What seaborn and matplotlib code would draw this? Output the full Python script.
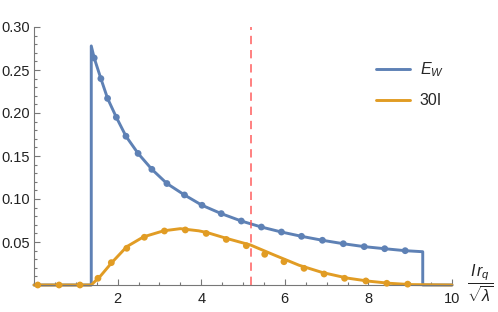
import matplotlib
matplotlib.use("Agg")
import matplotlib.pyplot as plt
from matplotlib.ticker import MultipleLocator
import seaborn as sns
import pandas as pd

# E_W curve (dots lie on the curve)
ew_x = [1.44, 1.60, 1.76, 1.97, 2.20, 2.49, 2.82, 3.18, 3.60, 4.02,
        4.48, 4.96, 5.44, 5.92, 6.40, 6.90, 7.40, 7.90, 8.39, 8.88]
ew_y = [0.264, 0.240, 0.217, 0.195, 0.173, 0.153, 0.1345, 0.118, 0.1047, 0.0927,
        0.083, 0.0744, 0.0674, 0.0616, 0.0566, 0.052, 0.048, 0.0446, 0.0422, 0.0399]
ew_start, ew_peak = 1.37, 0.278
ew_end, ew_last = 9.30, 0.0387

# 30I curve and its sample dots
i_x = [0, 1.37, 1.6, 1.86, 2.22, 2.62, 3.10, 3.50, 3.94, 4.14,
       4.62, 5.18, 5.74, 6.34, 6.9, 7.5, 8.0, 8.5, 9.0, 10]
i_y = [0, 0, 0.011, 0.026, 0.0446, 0.056, 0.063, 0.0655, 0.063, 0.061,
       0.054, 0.0465, 0.035, 0.023, 0.0145, 0.008, 0.0045, 0.002, 0.0005, 0]
dot_x = [0.09, 0.60, 1.10, 1.53, 1.85, 2.22, 2.64, 3.12, 3.62, 4.12,
         4.60, 5.08, 5.52, 5.98, 6.46, 6.94, 7.43, 7.94, 8.44, 8.94]
dot_y = [0, 0, 0, 0.0078, 0.026, 0.0427, 0.0555, 0.0628, 0.064, 0.060,
         0.053, 0.0457, 0.0357, 0.0271, 0.0194, 0.0128, 0.0078, 0.0047, 0.002, 0.001]

x_mark = 5.18

blue = "#5e81b5"
orange = "#e19c24"

sns.set_style("ticks")
plt.rcParams["font.family"] = ["Liberation Sans", "DejaVu Sans"]
plt.rcParams["mathtext.fontset"] = "custom"
plt.rcParams["mathtext.rm"] = "Liberation Sans"
plt.rcParams["mathtext.it"] = "Liberation Sans:italic"

fig = plt.figure(figsize=(4.98, 3.12), dpi=100)
ax = fig.add_axes([34 / 498, 27 / 312, 418 / 498, 258 / 312])

ew_df = pd.DataFrame({
    "x": [0, ew_start, ew_start] + ew_x + [ew_end, ew_end, 10],
    "y": [0, 0, ew_peak] + ew_y + [ew_last, 0, 0],
})
sns.lineplot(data=ew_df, x="x", y="y", sort=False, estimator=None, color=blue,
             lw=2.1, ax=ax, label=r"$E_W$", clip_on=False)
sns.scatterplot(x=ew_x, y=ew_y, color=blue, s=24, edgecolor="none", ax=ax,
                zorder=3, legend=False)

i_df = pd.DataFrame({"x": i_x, "y": i_y})
sns.lineplot(data=i_df, x="x", y="y", sort=False, estimator=None, color=orange,
             lw=2.1, ax=ax, label="30I", clip_on=False)
sns.scatterplot(x=dot_x, y=dot_y, color=orange, s=24, edgecolor="none", ax=ax,
                zorder=3, legend=False, clip_on=False)

ax.axvline(x_mark, color="#ff5a5a", lw=1.2, ls=(0, (5, 3.5)), alpha=0.9)

ax.set_xlim(0, 10)
ax.set_ylim(0, 0.30)
ax.xaxis.set_minor_locator(MultipleLocator(0.5))
ax.yaxis.set_minor_locator(MultipleLocator(0.01))
ax.set_xticks([2, 4, 6, 8, 10])
ax.set_yticks([0.05, 0.10, 0.15, 0.20, 0.25, 0.30])
ax.set_yticklabels(["0.05", "0.10", "0.15", "0.20", "0.25", "0.30"])
ax.tick_params(which="both", direction="in", colors="#777777", labelcolor="#222222",
               labelsize=10.5, width=0.8)
ax.tick_params(which="major", length=4)
ax.tick_params(axis="y", which="major", pad=3)
ax.tick_params(axis="x", which="major", pad=5)
ax.tick_params(which="minor", length=2.3)
ax.set_xlabel("")
ax.set_ylabel("")
sns.despine(ax=ax)
for s in ["left", "bottom"]:
    ax.spines[s].set_color("#777777")
    ax.spines[s].set_linewidth(0.8)

leg = ax.legend(loc="upper left", bbox_to_anchor=(362 / 498, 1 - 46 / 312),
                bbox_transform=fig.transFigure, frameon=False, fontsize=11.5,
                handlelength=2.1, handletextpad=0.6, labelspacing=0.9)
for h in leg.get_lines():
    h.set_linewidth(2.1)

fig.text(480 / 498, 1 - 283 / 312, r"$\dfrac{I\,r_q}{\sqrt{\lambda}}$",
         ha="center", va="center", fontsize=11.5, color="#222222")

fig.savefig("out.png", dpi=100)
